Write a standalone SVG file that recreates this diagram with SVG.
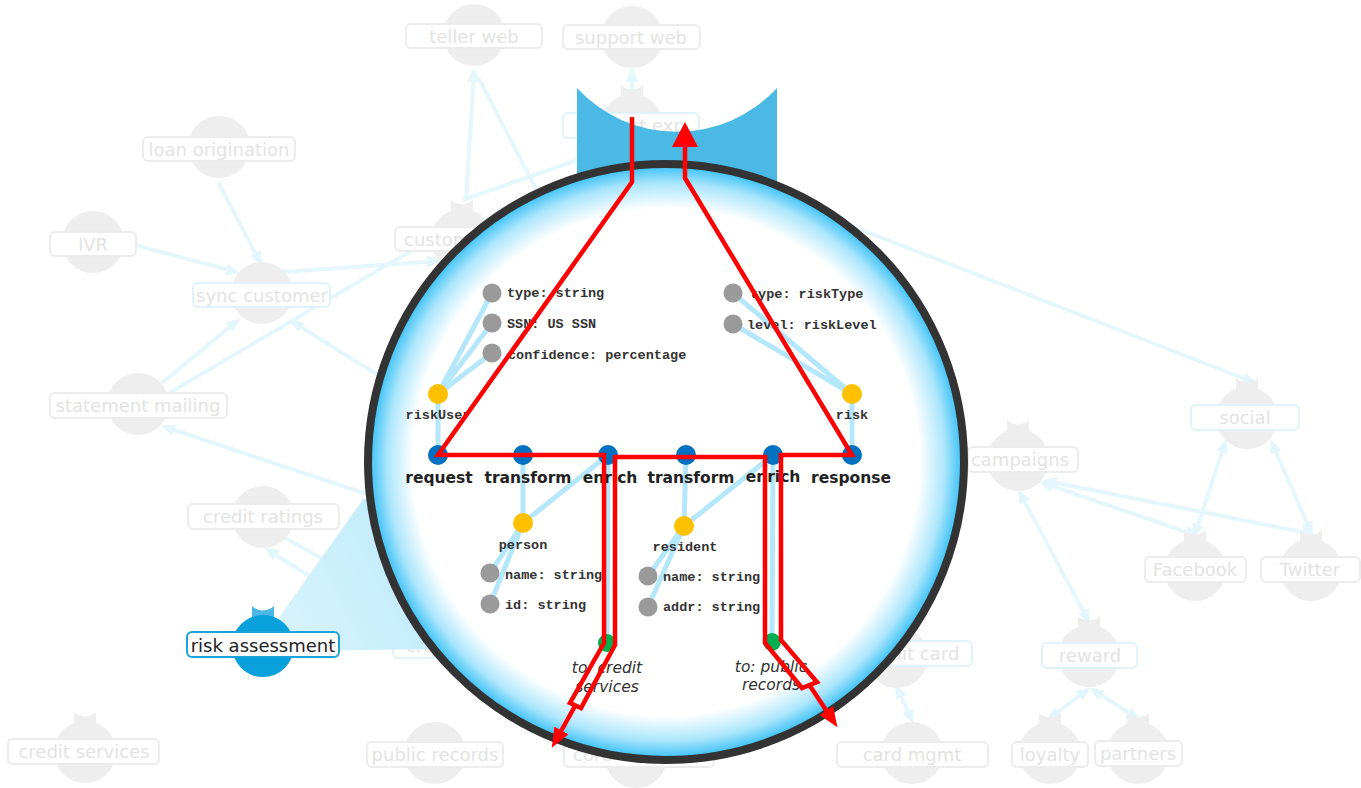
<svg xmlns="http://www.w3.org/2000/svg" width="1361" height="788" viewBox="0 0 1361 788">
<defs>
<style>
.bgc{fill:#eeeeee}
.lbl{fill:#ffffff;stroke:#ececec;stroke-width:2}
.lblb{fill:#ffffff;stroke:#e0f3fc;stroke-width:2}
.lt{font-family:"DejaVu Sans",Verdana,sans-serif;font-size:18px;fill:#e3e3e3;text-anchor:middle}
.con{fill:none;stroke:#e6f6fd;stroke-width:4}
.il{fill:none;stroke:#b5e7fb;stroke-width:5;stroke-linecap:round}
.bn{fill:#0070c0}
.yn{fill:#ffc000}
.gn{fill:#9a9a9a}
.grn{fill:#00b050}
.mono{font-family:"Liberation Mono","Courier New",monospace;font-weight:bold;font-size:13.5px;fill:#333333}
.bl{font-family:"DejaVu Sans",Verdana,sans-serif;font-weight:bold;font-size:15.5px;fill:#222222;text-anchor:middle}
.it{font-family:"DejaVu Sans",Verdana,sans-serif;font-style:italic;font-size:15.5px;fill:#333333;text-anchor:middle}
.red{fill:none;stroke:#ff0000;stroke-width:4.5;stroke-linejoin:miter}
</style>
<marker id="la" markerUnits="userSpaceOnUse" markerWidth="14" markerHeight="12" viewBox="0 0 14 12" refX="10" refY="6" orient="auto-start-reverse">
<path d="M0,0 L14,6 L0,12 Z" fill="#e3f5fd"/>
</marker>
<marker id="ra" markerUnits="userSpaceOnUse" markerWidth="25" markerHeight="26" viewBox="0 0 25 26" refX="3" refY="13" orient="auto">
<path d="M0,0 L25,13 L0,26 Z" fill="#ff0000"/>
</marker>
<marker id="rs" markerUnits="userSpaceOnUse" markerWidth="20" markerHeight="16" viewBox="0 0 20 16" refX="3" refY="8" orient="auto">
<path d="M0,0 L20,8 L0,16 Z" fill="#ff0000"/>
</marker>
<path id="ear" d="M-11,-40 A16,16 0 0 0 11,-40 L11,-26 L-11,-26 Z"/>
<radialGradient id="gBig" cx="0.5" cy="0.5" r="0.5">
<stop offset="0" stop-color="#ffffff"/>
<stop offset="0.85" stop-color="#ffffff"/>
<stop offset="0.935" stop-color="#ace6fc"/>
<stop offset="1" stop-color="#2fbdf5"/>
</radialGradient>
<linearGradient id="gCone" gradientUnits="userSpaceOnUse" x1="263" y1="646" x2="430" y2="560">
<stop offset="0" stop-color="#dbf4fd"/>
<stop offset="1" stop-color="#c0ebfb"/>
</linearGradient>
</defs>

<g id="connectors">
<line class="con" x1="466" y1="200" x2="474" y2="72" marker-end="url(#la)"/>
<line class="con" x1="478" y1="77" x2="548" y2="212"/>
<line class="con" x1="463" y1="200" x2="600" y2="152"/>
<line class="con" x1="632" y1="96" x2="632" y2="72" marker-end="url(#la)"/>
<line class="con" x1="218" y1="182" x2="260" y2="262" marker-end="url(#la)"/>
<line class="con" x1="135" y1="245" x2="236" y2="272" marker-end="url(#la)"/>
<line class="con" x1="283" y1="272" x2="437" y2="261" marker-end="url(#la)"/>
<line class="con" x1="450" y1="228" x2="118" y2="423" marker-end="url(#la)"/>
<line class="con" x1="162" y1="383" x2="237" y2="321" marker-end="url(#la)"/>
<line class="con" x1="405" y1="392" x2="293" y2="322" marker-end="url(#la)"/>
<line class="con" x1="400" y1="505" x2="165" y2="427" marker-end="url(#la)"/>
<line class="con" x1="285" y1="538" x2="345" y2="571"/>
<line class="con" x1="335" y1="592" x2="268" y2="550" marker-end="url(#la)"/>
<line class="con" x1="800" y1="206" x2="1253" y2="382" marker-end="url(#la)"/>
<line class="con" x1="1020" y1="493" x2="1088" y2="620" marker-start="url(#la)" marker-end="url(#la)"/>
<line class="con" x1="1043" y1="483" x2="1195" y2="535" marker-start="url(#la)" marker-end="url(#la)"/>
<line class="con" x1="1047" y1="481" x2="1312" y2="534" marker-start="url(#la)" marker-end="url(#la)"/>
<line class="con" x1="1225" y1="443" x2="1195" y2="534" marker-start="url(#la)" marker-end="url(#la)"/>
<line class="con" x1="1272" y1="443" x2="1311" y2="532" marker-start="url(#la)" marker-end="url(#la)"/>
<line class="con" x1="1087" y1="690" x2="1050" y2="718" marker-start="url(#la)" marker-end="url(#la)"/>
<line class="con" x1="1093" y1="690" x2="1137" y2="718" marker-start="url(#la)" marker-end="url(#la)"/>
<line class="con" x1="897" y1="688" x2="912" y2="720" marker-start="url(#la)" marker-end="url(#la)"/>
</g>

<g id="node-teller-web">
<circle class="bgc" cx="474" cy="35" r="31"/>
<rect class="lbl" x="406" y="24" width="136" height="24" rx="5"/>
<text class="lt" x="474" y="43">teller web</text>
</g>
<g id="node-support-web">
<circle class="bgc" cx="632" cy="37" r="31"/>
<rect class="lbl" x="563" y="25" width="137" height="24" rx="5"/>
<text class="lt" x="631" y="44">support web</text>
</g>
<g id="node-support-exp">
<use href="#ear" x="632" y="125" class="bgc"/>
<circle class="bgc" cx="632" cy="125" r="31"/>
<rect class="lblb" x="563" y="113" width="136" height="25" rx="5"/>
<text class="lt" x="631" y="132">support exp</text>
</g>
<g id="node-loan-origination">
<circle class="bgc" cx="219" cy="147" r="31"/>
<rect class="lbl" x="143" y="137" width="152" height="24" rx="5"/>
<text class="lt" x="219" y="156">loan origination</text>
</g>
<g id="node-ivr">
<circle class="bgc" cx="93" cy="242" r="31"/>
<rect class="lbl" x="50" y="232" width="86" height="24" rx="5"/>
<text class="lt" x="93" y="251">IVR</text>
</g>
<g id="node-sync-customer">
<circle class="bgc" cx="262" cy="293" r="31"/>
<rect class="lblb" x="193" y="283" width="137" height="24" rx="5"/>
<text class="lt" x="262" y="302">sync customer</text>
</g>
<g id="node-customer">
<use href="#ear" x="462" y="240" class="bgc"/>
<circle class="bgc" cx="462" cy="240" r="31"/>
<rect class="lbl" x="395" y="227" width="134" height="24" rx="5"/>
<text class="lt" x="404" y="246" style="text-anchor:start">customer</text>
</g>
<g id="node-statement-mailing">
<circle class="bgc" cx="138" cy="404" r="31"/>
<rect class="lbl" x="50" y="393" width="177" height="25" rx="5"/>
<text class="lt" x="138" y="412">statement mailing</text>
</g>
<g id="node-credit-ratings">
<circle class="bgc" cx="263" cy="517" r="31"/>
<rect class="lbl" x="188" y="504" width="151" height="25" rx="5"/>
<text class="lt" x="263" y="523">credit ratings</text>
</g>
<g id="node-credit-services">
<use href="#ear" x="85" y="752" class="bgc"/>
<circle class="bgc" cx="85" cy="752" r="31"/>
<rect class="lbl" x="8" y="739" width="151" height="25" rx="5"/>
<text class="lt" x="84" y="758">credit services</text>
</g>
<g id="node-public-records">
<circle class="bgc" cx="435" cy="753" r="31"/>
<rect class="lbl" x="367" y="742" width="136" height="25" rx="5"/>
<text class="lt" x="435" y="761">public records</text>
</g>
<g id="node-core">
<circle class="bgc" cx="636" cy="757" r="31"/>
<rect class="lbl" x="564" y="742" width="150" height="25" rx="5"/>
<text class="lt" x="573" y="761" style="text-anchor:start">core</text>
</g>
<g id="node-credit-hidden">
<rect class="lblb" x="393" y="633" width="130" height="25" rx="5"/>
<text class="lt" x="406" y="652" style="text-anchor:start">credit</text>
</g>
<g id="node-credit-card">
<circle class="bgc" cx="897" cy="657" r="31"/>
<rect class="lblb" x="850" y="641" width="122" height="25" rx="5"/>
<text class="lt" x="911" y="660">credit card</text>
</g>
<g id="node-card-mgmt">
<circle class="bgc" cx="912" cy="753" r="31"/>
<rect class="lbl" x="837" y="742" width="151" height="25" rx="5"/>
<text class="lt" x="912" y="761">card mgmt</text>
</g>
<g id="node-campaigns">
<use href="#ear" x="1018" y="460" class="bgc"/>
<circle class="bgc" cx="1018" cy="460" r="31"/>
<rect class="lbl" x="968" y="447" width="110" height="25" rx="5"/>
<text class="lt" x="1020" y="466">campaigns</text>
</g>
<g id="node-social">
<use href="#ear" x="1247" y="418" class="bgc"/>
<circle class="bgc" cx="1247" cy="418" r="31"/>
<rect class="lblb" x="1191" y="405" width="108" height="25" rx="5"/>
<text class="lt" x="1245" y="424">social</text>
</g>
<g id="node-facebook">
<use href="#ear" x="1195" y="570" class="bgc"/>
<circle class="bgc" cx="1195" cy="570" r="31"/>
<rect class="lbl" x="1145" y="557" width="101" height="25" rx="5"/>
<text class="lt" x="1195" y="576">Facebook</text>
</g>
<g id="node-twitter">
<use href="#ear" x="1311" y="570" class="bgc"/>
<circle class="bgc" cx="1311" cy="570" r="31"/>
<rect class="lbl" x="1261" y="557" width="99" height="25" rx="5"/>
<text class="lt" x="1310" y="576">Twitter</text>
</g>
<g id="node-reward">
<use href="#ear" x="1089" y="656" class="bgc"/>
<circle class="bgc" cx="1089" cy="656" r="31"/>
<rect class="lblb" x="1042" y="643" width="95" height="25" rx="5"/>
<text class="lt" x="1090" y="662">reward</text>
</g>
<g id="node-loyalty">
<use href="#ear" x="1050" y="753" class="bgc"/>
<circle class="bgc" cx="1050" cy="753" r="31"/>
<rect class="lbl" x="1012" y="742" width="76" height="25" rx="5"/>
<text class="lt" x="1050" y="761">loyalty</text>
</g>
<g id="node-partners">
<use href="#ear" x="1138" y="753" class="bgc"/>
<circle class="bgc" cx="1138" cy="753" r="31"/>
<rect class="lbl" x="1095" y="741" width="87" height="25" rx="5"/>
<text class="lt" x="1138" y="760">partners</text>
</g>

<polygon id="cone" points="263,640 364,498 460,560 433,649 300,651" fill="url(#gCone)"/>

<g id="node-risk-assessment">
<use href="#ear" x="263" y="646" fill="#4db8e5"/>
<circle cx="263" cy="646" r="31" fill="#0aa0dc"/>
<rect x="187" y="632" width="152" height="25" rx="5" fill="#ffffff" stroke="#1aa3dc" stroke-width="2"/>
<text class="lt" x="263" y="652" style="fill:#222222">risk assessment</text>
</g>

<path id="cup" d="M577,88 A136,136 0 0 0 777,88 L777,250 L577,250 Z" fill="#4ab9e5"/>

<g id="zoom-circle">
<circle cx="666" cy="462" r="298" fill="url(#gBig)" stroke="#333333" stroke-width="8"/>
</g>

<g id="inner-links">
<line class="il" x1="438" y1="394" x2="492" y2="293"/>
<line class="il" x1="438" y1="394" x2="492" y2="323"/>
<line class="il" x1="438" y1="394" x2="492" y2="353"/>
<line class="il" x1="438" y1="394" x2="438" y2="455"/>
<line class="il" x1="852" y1="394" x2="733" y2="293"/>
<line class="il" x1="852" y1="394" x2="733" y2="324"/>
<line class="il" x1="852" y1="394" x2="852" y2="455"/>
<line class="il" x1="523" y1="455" x2="523" y2="523"/>
<line class="il" x1="608" y1="455" x2="523" y2="523"/>
<line class="il" x1="523" y1="523" x2="490" y2="573"/>
<line class="il" x1="523" y1="523" x2="490" y2="604"/>
<line class="il" x1="686" y1="455" x2="684" y2="526"/>
<line class="il" x1="773" y1="455" x2="684" y2="526"/>
<line class="il" x1="684" y1="526" x2="648" y2="576"/>
<line class="il" x1="684" y1="526" x2="648" y2="607"/>
<line class="il" x1="608" y1="455" x2="607" y2="643"/>
<line class="il" x1="773" y1="455" x2="772" y2="642"/>
</g>

<g id="step-request"><circle class="bn" cx="438" cy="455" r="10"/><text class="bl" x="439" y="483">request</text></g>
<g id="step-transform-1"><circle class="bn" cx="523" cy="455" r="10"/><text class="bl" x="528" y="483">transform</text></g>
<g id="step-enrich-1"><circle class="bn" cx="608" cy="455" r="10"/><text class="bl" x="610" y="483">enrich</text></g>
<g id="step-transform-2"><circle class="bn" cx="686" cy="455" r="10"/><text class="bl" x="691" y="483">transform</text></g>
<g id="step-enrich-2"><circle class="bn" cx="773" cy="455" r="10"/><text class="bl" x="773" y="482">enrich</text></g>
<g id="step-response"><circle class="bn" cx="852" cy="455" r="10"/><text class="bl" x="851" y="483">response</text></g>

<g id="type-riskUser"><circle class="yn" cx="438" cy="394" r="10"/><text class="mono" x="438" y="419" text-anchor="middle">riskUser</text></g>
<g id="type-risk"><circle class="yn" cx="852" cy="394" r="10"/><text class="mono" x="852" y="419" text-anchor="middle">risk</text></g>
<g id="type-person"><circle class="yn" cx="523" cy="523" r="10"/><text class="mono" x="523" y="549" text-anchor="middle">person</text></g>
<g id="type-resident"><circle class="yn" cx="684" cy="526" r="10"/><text class="mono" x="685" y="551" text-anchor="middle">resident</text></g>

<g id="field-type-string"><circle class="gn" cx="492" cy="293" r="9.5"/><text class="mono" x="507" y="297">type: string</text></g>
<g id="field-ssn"><circle class="gn" cx="492" cy="323" r="9.5"/><text class="mono" x="507" y="328">SSN: US SSN</text></g>
<g id="field-confidence"><circle class="gn" cx="492" cy="353" r="9.5"/><text class="mono" x="508" y="359">confidence: percentage</text></g>
<g id="field-type-risktype"><circle class="gn" cx="733" cy="293" r="9.5"/><text class="mono" x="750" y="298">type: riskType</text></g>
<g id="field-level"><circle class="gn" cx="733" cy="324" r="9.5"/><text class="mono" x="747" y="329">level: riskLevel</text></g>
<g id="field-name-1"><circle class="gn" cx="490" cy="573" r="9.5"/><text class="mono" x="505" y="579">name: string</text></g>
<g id="field-id"><circle class="gn" cx="490" cy="604" r="9.5"/><text class="mono" x="505" y="609">id: string</text></g>
<g id="field-name-2"><circle class="gn" cx="648" cy="576" r="9.5"/><text class="mono" x="663" y="581">name: string</text></g>
<g id="field-addr"><circle class="gn" cx="648" cy="607" r="9.5"/><text class="mono" x="663" y="611">addr: string</text></g>

<g id="out-credit"><circle class="grn" cx="607" cy="643" r="9"/><text class="it" x="607" y="673">to: credit</text><text class="it" x="607" y="692">services</text></g>
<g id="out-public"><circle class="grn" cx="772" cy="642" r="9"/><text class="it" x="771" y="672">to: public</text><text class="it" x="771" y="690">records</text></g>

<g id="red-flow">
<path class="red" d="M632,117 L632,182 L438,455 L604,455 L604,643 L570,703 L581,708 L615,645 L615,457 L765,457 L765,643 L802,688 L817,682 L781,640 L781,455 L852,455 L685,178 L685,144" marker-end="url(#ra)"/>
<line class="red" x1="575" y1="706" x2="560" y2="733" marker-end="url(#rs)"/>
<line class="red" x1="810" y1="686" x2="828" y2="713" marker-end="url(#rs)"/>
</g>
</svg>
